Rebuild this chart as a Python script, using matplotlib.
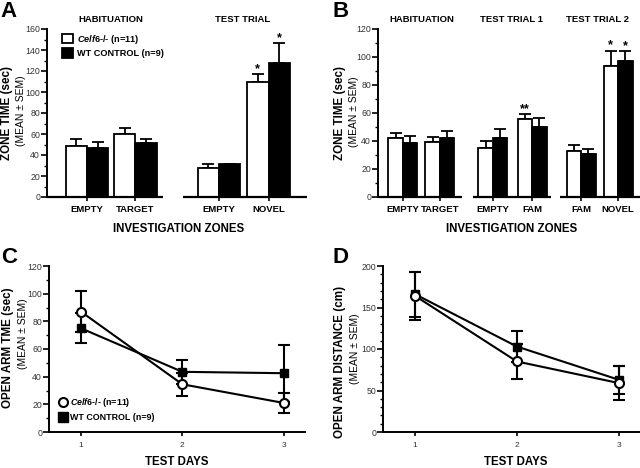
import matplotlib
matplotlib.use("Agg")
import matplotlib.pyplot as plt
from matplotlib.ticker import MultipleLocator
from matplotlib.lines import Line2D

plt.rcParams['font.family'] = ['Liberation Sans', 'DejaVu Sans']
plt.rcParams['mathtext.fontset'] = 'custom'
plt.rcParams['mathtext.it'] = 'Liberation Sans:italic:bold'
plt.rcParams['mathtext.rm'] = 'Liberation Sans:bold'

# ---------------- data ----------------
# panel A
a_groups = ['EMPTY', 'TARGET', 'EMPTY', 'NOVEL']
a_ko = [49, 60, 28, 110]
a_ko_err = [6, 5.5, 3.5, 7]
a_wt = [47, 51, 31, 128]
a_wt_err = [5, 4.5, 0.7, 19]
a_sig_ko = ['', '', '', '*']
a_sig_wt = ['', '', '', '*']

# panel B
b_groups = ['EMPTY', 'TARGET', 'EMPTY', 'FAM', 'FAM', 'NOVEL']
b_ko = [42.5, 39, 35, 55.5, 33, 93.5]
b_ko_err = [3.5, 4, 5, 3.5, 4.5, 11]
b_wt = [38.5, 42.5, 42, 50, 30.5, 97.5]
b_wt_err = [5, 5, 6.5, 6.5, 3.5, 6.5]
b_sig_ko = ['', '', '', '**', '', '*']
b_sig_wt = ['', '', '', '', '', '*']

# panel C / D
days = [1, 2, 3]
c_ko = [87, 34.5, 21]
c_ko_err = [15, 8.5, 7.3]
c_wt = [75, 43.5, 42.5]
c_wt_err = [11, 8.5, 20.5]
d_ko = [164, 85, 59]
d_ko_err = [29, 21, 20]
d_wt = [166, 103, 63]
d_wt_err = [27, 19, 17]

ko_label = r'$\it{Celf6}$' + '-/- (n=11)'
wt_label = 'WT CONTROL (n=9)'

W, H = 640, 468
fig = plt.figure(figsize=(6.4, 4.68), dpi=100)


def px_axes(x0, y0, x1, y1):
    # rectangle given in pixel coordinates from the top-left corner
    return fig.add_axes([x0 / W, 1 - y1 / H, (x1 - x0) / W, (y1 - y0) / H])


def style_axes(ax, major, minor):
    for s in ['top', 'right']:
        ax.spines[s].set_visible(False)
    ax.spines['left'].set_linewidth(1.4)
    ax.spines['bottom'].set_linewidth(1.4)
    ax.yaxis.set_major_locator(MultipleLocator(major))
    ax.yaxis.set_minor_locator(MultipleLocator(minor))
    ax.tick_params(axis='y', which='major', length=4, width=1.2, labelsize=6.3,
                   pad=1, labelcolor='#333333')
    ax.tick_params(axis='y', which='minor', length=2.5, width=1.0)


def ylab(x, y, x2, y2, main, sub):
    fig.text(x / W, 1 - y / H, main, rotation=90, ha='center', va='center',
             fontsize=8.4, fontweight='bold')
    fig.text(x2 / W, 1 - y2 / H, sub, rotation=90, ha='center', va='center',
             fontsize=7.4)


def letter(x, y, s):
    fig.text(x / W, 1 - y / H, s, ha='left', va='top', fontsize=16, fontweight='bold')


def bar_panel(ax, pos, ko, ko_err, wt, wt_err, sig_ko, sig_wt, groups, width, segments, ymax, dy):
    xk = [p - width / 2 for p in pos]
    xw = [p + width / 2 for p in pos]
    ax.bar(xk, ko, width, color='white', edgecolor='black', linewidth=1.3, zorder=3)
    ax.bar(xw, wt, width, color='black', edgecolor='black', linewidth=1.3, zorder=3)
    ax.errorbar(xk, ko, yerr=[[0] * len(ko), ko_err], fmt='none', ecolor='black',
                elinewidth=1.3, capsize=4, capthick=1.3, zorder=2)
    ax.errorbar(xw, wt, yerr=[[0] * len(wt), wt_err], fmt='none', ecolor='black',
                elinewidth=1.3, capsize=4, capthick=1.3, zorder=2)
    for x, v, e, s in zip(xk + xw, ko + wt, ko_err + wt_err, sig_ko + sig_wt):
        if s:
            ax.text(x, v + e + dy, s, ha='center', va='bottom', fontsize=9, fontweight='bold')
    ax.set_ylim(0, ymax)
    ax.spines['bottom'].set_visible(False)
    for a, b in segments:
        ax.plot([a, b], [0, 0], color='black', lw=1.6, clip_on=False, zorder=4,
                solid_capstyle='butt')
    ax.set_xticks(pos)
    ax.set_xticklabels(groups, fontsize=6.8, fontweight='bold')
    ax.tick_params(axis='x', length=3, width=1.2, pad=3)


# ---------------- panel A ----------------
axA = px_axes(47, 29, 307, 197)
style_axes(axA, 20, 10)
posA = [0, 2.2, 6.0, 8.25]
bar_panel(axA, posA, a_ko, a_ko_err, a_wt, a_wt_err, a_sig_ko, a_sig_wt, a_groups,
          0.97, [(-1.82, 3.45), (4.35, 10.0)], 160, -1)
axA.set_xlim(-1.82, 10.0)
ka = axA.bar([0], [0], color='white', edgecolor='black', linewidth=1.3)
wa = axA.bar([0], [0], color='black', edgecolor='black', linewidth=1.3)
axA.legend([ka, wa], [ko_label, wt_label], loc='upper left', bbox_to_anchor=(0.045, 1.0),
           frameon=False, prop={'size': 6.6, 'weight': 'bold'}, handlelength=1.2,
           handleheight=1.2, handletextpad=0.4, labelspacing=0.3, borderaxespad=0)
fig.text(111 / W, 1 - 20 / H, 'HABITUATION', ha='center', va='center', fontsize=6.8, fontweight='bold')
fig.text(243 / W, 1 - 20 / H, 'TEST TRIAL', ha='center', va='center', fontsize=6.8, fontweight='bold')
fig.text(179 / W, 1 - 229 / H, 'INVESTIGATION ZONES', ha='center', va='center', fontsize=8.3, fontweight='bold')
ylab(7, 113, 21, 111, 'ZONE TIME (sec)', '(MEAN ± SEM)')
letter(0, 1, 'A')

# ---------------- panel B ----------------
axB = px_axes(378, 29, 640, 197)
style_axes(axB, 20, 10)
posB = [0, 2.55, 6.2, 8.9, 12.28, 14.83]
bar_panel(axB, posB, b_ko, b_ko_err, b_wt, b_wt_err, b_sig_ko, b_sig_wt, b_groups,
          1.0, [(-1.72, 4.07), (4.83, 10.2), (10.83, 16.34)], 120, -0.5)
axB.set_xlim(-1.72, 16.34)
fig.text(422 / W, 1 - 20 / H, 'HABITUATION', ha='center', va='center', fontsize=6.8, fontweight='bold')
fig.text(512 / W, 1 - 20 / H, 'TEST TRIAL 1', ha='center', va='center', fontsize=6.8, fontweight='bold')
fig.text(598 / W, 1 - 20 / H, 'TEST TRIAL 2', ha='center', va='center', fontsize=6.8, fontweight='bold')
fig.text(512 / W, 1 - 229 / H, 'INVESTIGATION ZONES', ha='center', va='center', fontsize=8.3, fontweight='bold')
ylab(340, 113, 354, 112, 'ZONE TIME (sec)', '(MEAN ± SEM)')
letter(332, 1, 'B')


# ---------------- panels C / D ----------------
def line_panel(ax, ko, ko_err, wt, wt_err, ymax):
    ax.errorbar(days, wt, yerr=wt_err, color='black', lw=1.5, marker='s', ms=6,
                mfc='black', mec='black', elinewidth=1.5, capsize=4, capthick=1.5,
                zorder=3)
    ax.errorbar(days, ko, yerr=ko_err, color='black', lw=1.5, marker='o', ms=6.5,
                mfc='white', mec='black', mew=1.5, elinewidth=1.5, capsize=4,
                capthick=1.5, zorder=4)
    ax.set_ylim(0, ymax)
    ax.set_xlim(0.685, 3.21)
    ax.set_xticks(days)
    ax.tick_params(axis='x', length=3, width=1.2, labelsize=6, pad=4, labelcolor='#333333')


axC = px_axes(49, 266, 305, 432)
style_axes(axC, 20, 10)
line_panel(axC, c_ko, c_ko_err, c_wt, c_wt_err, 120)
hk = Line2D([], [], ls='none', marker='o', ms=6.5, mfc='white', mec='black', mew=1.5)
hw = Line2D([], [], ls='none', marker='s', ms=6.5, mfc='black', mec='black')
axC.legend([hk, hw], [ko_label, wt_label], loc='lower left', bbox_to_anchor=(0.025, 0.04),
           frameon=False, prop={'size': 6.4, 'weight': 'bold'}, handlelength=0.8,
           handletextpad=0.4, labelspacing=0.45, borderaxespad=0)
fig.text(177 / W, 1 - 462 / H, 'TEST DAYS', ha='center', va='center', fontsize=8.3, fontweight='bold')
ylab(8, 348, 23, 334, 'OPEN ARM TME (sec)', '(MEAN ± SEM)')
letter(1, 247, 'C')

axD = px_axes(383, 266, 640, 432)
style_axes(axD, 50, 10)
line_panel(axD, d_ko, d_ko_err, d_wt, d_wt_err, 200)
fig.text(516 / W, 1 - 462 / H, 'TEST DAYS', ha='center', va='center', fontsize=8.3, fontweight='bold')
ylab(340, 362, 355, 349, 'OPEN ARM DISTANCE (cm)', '(MEAN ± SEM)')
letter(332, 247, 'D')

fig.savefig('out.png', dpi=100)
